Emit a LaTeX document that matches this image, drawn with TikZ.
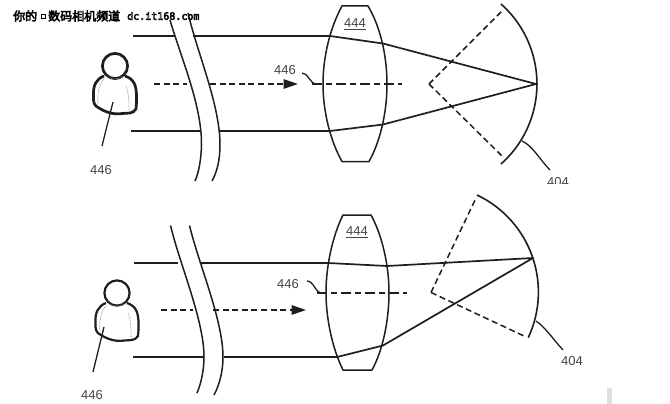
\documentclass[tikz,border=0pt]{standalone}
\usepackage{fontspec}
\setmainfont{Liberation Sans}
\newfontfamily\cjkwm{Noto Sans CJK SC}[Scale=1]
\newfontfamily\monowm{DejaVu Sans Mono}[Scale=1]
\usetikzlibrary{arrows.meta}
\definecolor{ink}{HTML}{1E1E1E}
\definecolor{lab}{HTML}{444444}
\tikzset{
  ln/.style={draw=ink,line width=1.5pt},
  beam/.style={draw=ink,line width=1.7pt,line join=round},
  dsh/.style={draw=ink,line width=1.5pt,dash pattern=on 6pt off 3.6pt},
  dshlong/.style={draw=ink,line width=1.5pt,dash pattern=on 10pt off 4pt on 6pt off 4pt},
  lbl/.style={text=lab,font=\fontsize{13}{15}\selectfont,inner sep=0pt},
  lead/.style={draw=ink,line width=1.3pt},
  headtip/.style={-{Triangle[length=14.5pt,width=9.5pt]}},
  body/.style={draw=ink,line join=round},
  shade/.style={draw=gray!85,line width=.8pt,densely dotted},
  wm/.style={inner sep=0pt,anchor=west,text=white,font=\fontsize{12}{14}\selectfont}
}
\newcommand{\outl}[1]{\special{pdf:code 2 Tr 0.55 w 0 0 0 RG}#1\special{pdf:code 0 Tr}}
\newcommand{\persona}[3]{%
 \begin{scope}[shift={(#1,#2)}]
  \draw[body,line width=#3] (115,66) circle (12.6);
  \draw[body,line width=#3] (104,76) .. controls (96,79) and (93,86) .. (93.5,95)
     .. controls (93,102) and (94,106) .. (99,108)
     .. controls (105,112) and (114,115) .. (122,113.5)
     .. controls (128,113) and (133,114) .. (136,109)
     .. controls (137,100) and (137,88) .. (134,83)
     .. controls (132,79) and (128,77) .. (125,76);
  \draw[shade] (104,79) .. controls (99,84) and (97,94) .. (98,104);
  \draw[shade] (126,86) .. controls (129,93) and (129,102) .. (129,110);
  \draw[shade] (106,76) .. controls (110,80) and (120,80) .. (124,76);
 \end{scope}}
\begin{document}
\begin{tikzpicture}[x=1pt,y=-1pt]
\useasboundingbox (0,0) rectangle (670,404);
\fill[white] (0,0) rectangle (670,404);
\fill[black!12] (607,388) rectangle (612,404);

% ---------- top figure
\coordinate (tA) at (133,36);
\coordinate (tB) at (175,36);
\coordinate (tC) at (193,36);
\coordinate (tD) at (330,36);
\coordinate (tE) at (383,43.5);
\coordinate (tF) at (536,84);
\coordinate (tG) at (131,131);
\coordinate (tH) at (200,131);
\coordinate (tI) at (220,131);
\coordinate (tJ) at (330,131);
\coordinate (tK) at (383,124.5);
\draw[beam] (tA) -- (tB);
\draw[beam] (tC) -- (tD) -- (tE) -- (tF) -- (tK) -- (tJ) -- (tI);
\draw[beam] (tG) -- (tH);
\draw[ln] (170,20) .. controls (180,55) and (202,105) .. (201.5,145) .. controls (201,160) and (199,172) .. (195,181);
\draw[ln] (188,13) .. controls (198,55) and (220,105) .. (220,145) .. controls (220,160) and (217,172) .. (212,181);
% lens
\draw[ln] (342,6) -- (368,6) .. controls (380,26) and (387,55) .. (387,84)
   .. controls (387,113) and (380,142) .. (369,161.5) -- (342,161.5)
   .. controls (331,142) and (323,113) .. (323,84)
   .. controls (323,55) and (331,26) .. (342,6) -- cycle;
\node[lbl] (t444) at (355,24) {\underline{444}};
% sensor
\coordinate (tapex) at (429,84);
\draw[ln,line width=1.6pt] (501,4) arc[start angle=-48.4,end angle=48.4,radius=107,x=1pt,y=-1pt];
\draw[dsh] (tapex) -- (502,11);
\draw[dsh] (tapex) -- (502,156);
% axis
\coordinate (ta1) at (154,84);
\coordinate (ta2) at (187,84);
\coordinate (ta3) at (210,84);
\coordinate (ta4) at (298,84);
\draw[dsh] (ta1) -- (ta2);
\draw[dsh,headtip] (ta3) -- (ta4);
\coordinate (tc1) at (312,84);
\coordinate (tc2) at (402,84);
\draw[dshlong] (tc1) -- (tc2);
\node[lbl] (t446a) at (285,70.5) {446};
\coordinate (tq) at (302,73);
\draw[lead] (tq) .. controls (309,73) and (309,84) .. (317,84);
% person
\persona{0}{0}{2.7pt}
\coordinate (tp) at (113,102);
\coordinate (tq2) at (102,146);
\draw[lead] (tp) -- (tq2);
\node[lbl] (t446b) at (101,170) {446};
% 404 clipped
\coordinate (tl1) at (522,141);
\coordinate (tl2) at (550,170);
\draw[lead] (tl1) .. controls (533,146) and (540,160) .. (tl2);
\begin{scope}
 \clip (530,172) rectangle (590,183);
 \node[lbl] (t404) at (558,182) {404};
\end{scope}

% ---------- bottom figure
\coordinate (bA) at (134,263);
\coordinate (bB) at (178,263);
\coordinate (bC) at (200,263);
\coordinate (bD) at (328,263);
\coordinate (bE) at (387,266);
\coordinate (bF) at (533,258);
\coordinate (bG) at (133,357);
\coordinate (bH) at (204,357);
\coordinate (bI) at (224,357);
\coordinate (bJ) at (337,357);
\coordinate (bK) at (383,345.5);
\draw[beam] (bA) -- (bB);
\draw[beam] (bC) -- (bD) -- (bE) -- (bF) -- (bK) -- (bJ) -- (bI);
\draw[beam] (bG) -- (bH);
\draw[ln] (170.5,225.5) .. controls (180,265) and (204,320) .. (204,357) .. controls (204,370) and (201,384) .. (197,393);
\draw[ln] (189.5,225.5) .. controls (199,265) and (223,320) .. (223,357) .. controls (223,370) and (220,384) .. (214,395);
% lens
\draw[ln] (343,215) -- (371,215) .. controls (382,235) and (389,265) .. (389,292.5)
   .. controls (389,320) and (383,350) .. (372,370) -- (343,370)
   .. controls (333,350) and (326,320) .. (326,292.5)
   .. controls (326,265) and (333,235) .. (343,215) -- cycle;
\node[lbl] (b444) at (357,232.5) {\underline{444}};
% sensor
\coordinate (bapex) at (431,292.5);
\draw[ln,line width=1.6pt] (477,195) arc[start angle=-64.6,end angle=25.1,radius=107.5,x=1pt,y=-1pt];
\draw[dsh] (bapex) -- (476,198);
\draw[dsh] (bapex) -- (524,336);
% axis
\coordinate (ba1) at (161,310);
\coordinate (ba2) at (193,310);
\coordinate (ba3) at (213,310);
\coordinate (ba4) at (306,310);
\draw[dsh] (ba1) -- (ba2);
\draw[dsh,headtip] (ba3) -- (ba4);
\coordinate (bc1) at (317,293);
\coordinate (bc2) at (407,293);
\draw[dshlong] (bc1) -- (bc2);
\node[lbl] (b446a) at (288,284) {446};
\coordinate (bq) at (307,281);
\draw[lead] (bq) .. controls (314,281) and (315,293) .. (322,293);
% person
\persona{2}{227}{2.2pt}
\coordinate (bp) at (104,327);
\coordinate (bq2) at (93,372);
\draw[lead] (bp) -- (bq2);
\node[lbl] (b446b) at (92,395) {446};
\coordinate (bl1) at (536,321);
\coordinate (bl2) at (563,350);
\draw[lead] (bl1) .. controls (545,327) and (553,339) .. (bl2);
\node[lbl] (b404) at (572,361) {404};

% watermark
\node[wm] (wmk1) at (13,16) {\outl{\cjkwm 你的}};
\draw[fill=white,draw=black,line width=.9pt] (41,14.5) rectangle (45.5,18.5);
\node[wm] (wmk2) at (48,16) {\outl{\cjkwm 数码相机频道}};
\node[wm] (wmu) at (127,16) {\outl{\monowm\fontsize{10}{12}\selectfont dc.it168.com}};
\end{tikzpicture}
\end{document}
